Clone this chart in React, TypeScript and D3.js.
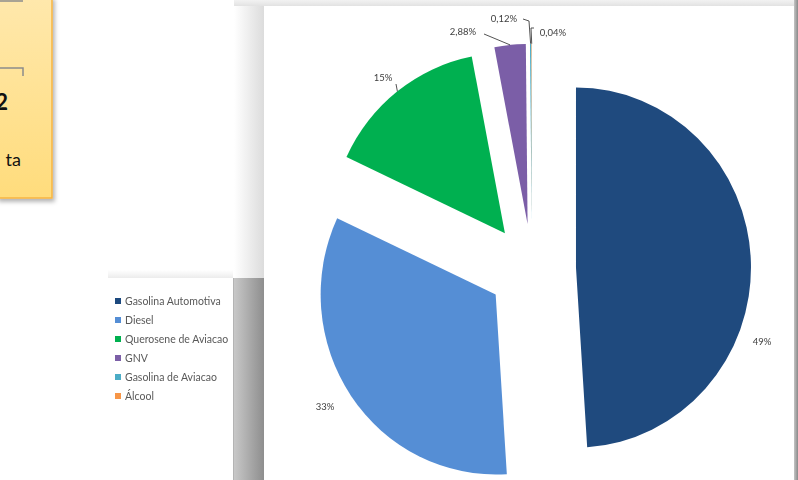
import React from "react";
import * as d3 from "d3";

const categories = [
  "Gasolina Automotiva",
  "Diesel",
  "Querosene de Aviacao",
  "GNV",
  "Gasolina de Aviacao",
  "Álcool",
];
const values = [49, 33, 15, 2.88, 0.12, 0.04];
const valueLabels = ["49%", "33%", "15%", "2,88%", "0,12%", "0,04%"];
const colors = ["#1F4A7E", "#558ED5", "#00B050", "#7B5EA7", "#4BACC6", "#F79646"];

// layout (label anchor positions, leader start points)
const labelPos = [
  { x: 762, y: 345, lead: null },
  { x: 325, y: 410, lead: null },
  { x: 383, y: 81, lead: [396, 84] },
  { x: 463, y: 35, lead: [484, 34] },
  { x: 504, y: 22, lead: [523, 19, 529, 21] },
  { x: 553, y: 36, lead: [534, 28, 531, 28] },
];

const W = 798;
const H = 480;
const CX = 532;
const CY = 269;
const R = 175;
const SY = 180 / 175;
const EXPLODE = 44;

export default function App() {
  const pie = d3.pie<number>().sort(null).value((d) => d);
  const arcs = pie(values);
  const arc = d3.arc<d3.PieArcDatum<number>>().innerRadius(0).outerRadius(R);

  const offsets = arcs.map((a) => {
    const m = (a.startAngle + a.endAngle) / 2;
    return [EXPLODE * Math.sin(m), -EXPLODE * Math.cos(m) * SY];
  });
  const outerMid = arcs.map((a, i) => {
    const m = (a.startAngle + a.endAngle) / 2;
    return [
      CX + offsets[i][0] + R * Math.sin(m),
      CY + offsets[i][1] + -R * Math.cos(m) * SY,
    ];
  });

  const legendY = d3.scalePoint<string>().domain(categories).range([301, 396]);

  return (
    <div style={{ position: "absolute", left: 0, top: 0 }}>
      <svg width={W} height={H} style={{ display: "block" }}>
        <defs>
          <linearGradient id="yel" x1="0" y1="0" x2="0" y2="1">
            <stop offset="0" stopColor="#FFE8AC" />
            <stop offset="1" stopColor="#FFDC7C" />
          </linearGradient>
          <linearGradient id="lshTop" x1="0" y1="0" x2="1" y2="0">
            <stop offset="0" stopColor="#ffffff" />
            <stop offset="1" stopColor="#dcdcdc" />
          </linearGradient>
          <linearGradient id="lshBot" x1="0" y1="0" x2="1" y2="0">
            <stop offset="0" stopColor="#c8c8c8" />
            <stop offset="1" stopColor="#8e8e8e" />
          </linearGradient>
          <linearGradient id="fadeV" x1="0" y1="0" x2="0" y2="1">
            <stop offset="0" stopColor="#ffffff" stopOpacity="0" />
            <stop offset="1" stopColor="#ffffff" stopOpacity="1" />
          </linearGradient>
          <linearGradient id="topStrip" x1="0" y1="0" x2="0" y2="1">
            <stop offset="0" stopColor="#f2f2f2" />
            <stop offset="1" stopColor="#e2e2e2" />
          </linearGradient>
          <linearGradient id="rightBar" x1="0" y1="0" x2="1" y2="0">
            <stop offset="0" stopColor="#c4c4c4" />
            <stop offset="1" stopColor="#8a8a8a" />
          </linearGradient>
          <linearGradient id="legTop" x1="0" y1="0" x2="0" y2="1">
            <stop offset="0" stopColor="#ffffff" />
            <stop offset="1" stopColor="#ececec" />
          </linearGradient>
          <filter id="ysh" x="-20%" y="-20%" width="150%" height="150%">
            <feDropShadow dx="2" dy="3" stdDeviation="2" floodColor="#000" floodOpacity="0.3" />
          </filter>
          <filter id="blur1">
            <feGaussianBlur stdDeviation="0.4" />
          </filter>
        </defs>

        <rect x={0} y={0} width={W} height={H} fill="#ffffff" />

        {/* yellow note box */}
        <rect x={-3} y={-3} width={55} height={201} fill="url(#yel)" stroke="#F7B540" strokeWidth={1.5} filter="url(#ysh)" />
        <path d="M0,1 H23" stroke="#8c8c8c" strokeWidth={1.5} fill="none" />
        <path d="M0,68 H23 V76" stroke="#8c8c8c" strokeWidth={1.5} fill="none" />
        <text x={8} y={110} textAnchor="end" fontFamily="Lato, 'Open Sans', sans-serif" fontWeight="bold" fontSize={22} fill="#111">2</text>
        <text x={21} y={166} textAnchor="end" fontFamily="Lato, 'Open Sans', sans-serif" fontSize={18} fill="#111">ta</text>

        {/* shadows around chart panel */}
        <rect x={234} y={0} width={30} height={H} fill="url(#lshTop)" />
        <rect x={234} y={278} width={30} height={202} fill="url(#lshBot)" />
        <rect x={234} y={240} width={30} height={40} fill="url(#fadeV)" opacity={0} />
        <rect x={234} y={0} width={564} height={6} fill="url(#topStrip)" />
        <rect x={794} y={0} width={4} height={H} fill="url(#rightBar)" />

        {/* legend box */}
        <rect x={108} y={270} width={125} height={8} fill="url(#legTop)" />
        <rect x={108} y={278} width={125} height={202} fill="#ffffff" />
        <line x1={233.5} y1={278} x2={233.5} y2={H} stroke="#b4b4b4" strokeWidth={1} />
        <g filter="url(#blur1)">
          {categories.map((c, i) => (
            <g key={c} transform={`translate(0,${legendY(c)})`}>
              <rect x={115} y={-3} width={6} height={6} fill={colors[i]} />
              <text x={125} y={3.5} fontFamily="Lato, 'Open Sans', sans-serif" fontSize={10.5} fill="#595959">{c}</text>
            </g>
          ))}
        </g>

        {/* chart panel */}
        <rect x={264} y={6} width={530} height={474} fill="#ffffff" />

        <g transform={`translate(${CX},${CY}) scale(1,${SY})`}>
          {arcs.map((a, i) => (
            <path
              key={i}
              d={arc(a) || ""}
              transform={`translate(${offsets[i][0]},${offsets[i][1] / SY})`}
              fill={colors[i]}
            />
          ))}
        </g>

        {/* leader lines */}
        <g stroke="#404040" strokeWidth={0.9} fill="none">
          {labelPos.map((p, i) =>
            p.lead ? (
              <polyline
                key={i}
                points={[...p.lead, outerMid[i][0], outerMid[i][1]].join(",")}
              />
            ) : null
          )}
        </g>

        <g filter="url(#blur1)">
          {labelPos.map((p, i) => (
            <text
              key={i}
              x={p.x}
              y={p.y}
              textAnchor="middle"
              fontFamily="Lato, 'Open Sans', sans-serif"
              fontSize={9.5}
              fill="#404040"
            >
              {valueLabels[i]}
            </text>
          ))}
        </g>
      </svg>
    </div>
  );
}
